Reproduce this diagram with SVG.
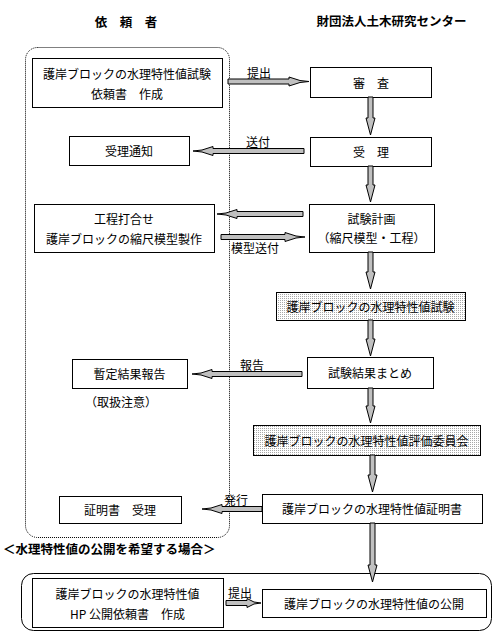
<svg xmlns="http://www.w3.org/2000/svg" width="502" height="640" viewBox="0 0 502 640">
<style>
.t{font-family:"Noto Sans CJK JP","Noto Sans CJK SC",sans-serif;font-size:12px;text-anchor:middle;dominant-baseline:central;fill:#000}
.h{font-family:"Noto Sans CJK JP","Noto Sans CJK SC",sans-serif;font-size:12.5px;font-weight:bold;fill:#000;dominant-baseline:central}
.b{fill:#fff;stroke:#000;stroke-width:1}
.s{fill:url(#dots);stroke:#000;stroke-width:1}
.a{fill:#c0c0c0;stroke:#000;stroke-width:1;stroke-linejoin:miter}
</style>
<defs>
<pattern id="dots" width="2" height="2" patternUnits="userSpaceOnUse">
<rect width="2" height="2" fill="#fff"/>
<rect width="1" height="1" fill="#a8a8a8"/>
</pattern>
</defs>
<rect width="502" height="640" fill="#fff"/>

<g id="lanes">
<text class="h" x="126" y="21" text-anchor="middle">依　頼　者</text>
<text class="h" x="391.5" y="20" text-anchor="middle">財団法人土木研究センター</text>
<rect x="25.5" y="47.5" width="204" height="490" rx="12" fill="none" stroke="#000" stroke-width="1" stroke-dasharray="1,1"/>
<text class="h" x="3" y="548">＜水理特性値の公開を希望する場合＞</text>
<rect x="21.5" y="573.5" width="470" height="57" rx="12" fill="none" stroke="#000" stroke-width="1"/>
</g>

<g id="n1"><rect class="b" x="32.5" y="58.5" width="190" height="49"/><text class="t" x="127" y="73">護岸ブロックの水理特性値試験</text><text class="t" x="127" y="93">依頼書　作成</text></g>
<g id="n2"><rect class="b" x="310.5" y="67.5" width="121" height="30"/><text class="t" x="371" y="82">審　査</text></g>
<g id="n3"><rect class="b" x="310.5" y="137.5" width="121" height="29"/><text class="t" x="371" y="151.5">受　理</text></g>
<g id="n4"><rect class="b" x="69.5" y="136.5" width="120" height="29"/><text class="t" x="129" y="150.5">受理通知</text></g>
<g id="n5"><rect class="b" x="34.5" y="204.5" width="180" height="48"/><text class="t" x="124" y="218">工程打合せ</text><text class="t" x="124" y="238">護岸ブロックの縮尺模型製作</text></g>
<g id="n6"><rect class="b" x="309.5" y="204.5" width="125" height="48"/><text class="t" x="371.5" y="218">試験計画</text><text class="t" x="371.5" y="237">（縮尺模型・工程）</text></g>
<g id="n7"><rect class="s" x="276.5" y="292.5" width="189" height="28"/><text class="t" x="370.5" y="306">護岸ブロックの水理特性値試験</text></g>
<g id="n8"><rect class="b" x="307.5" y="357.5" width="126" height="31"/><text class="t" x="370" y="372.5">試験結果まとめ</text></g>
<g id="n9"><rect class="b" x="72.5" y="359.5" width="115" height="29"/><text class="t" x="129.5" y="373.5">暫定結果報告</text><text class="t" x="121" y="401">（取扱注意）</text></g>
<g id="n10"><rect class="s" x="253.5" y="425.5" width="227" height="30"/><text class="t" x="366.5" y="440">護岸ブロックの水理特性値評価委員会</text></g>
<g id="n11"><rect class="b" x="262.5" y="494.5" width="220" height="29"/><text class="t" x="372" y="508.5">護岸ブロックの水理特性値証明書</text></g>
<g id="n12"><rect class="b" x="59.5" y="496.5" width="122" height="27"/><text class="t" x="120" y="509.5">証明書　受理</text></g>
<g id="n13"><rect class="b" x="32.5" y="578.5" width="191" height="49"/><text class="t" x="127.5" y="593">護岸ブロックの水理特性値</text><text class="t" x="127.5" y="613">HP 公開依頼書　作成</text></g>
<g id="n14"><rect class="b" x="262.5" y="589.5" width="224" height="28"/><text class="t" x="374" y="603">護岸ブロックの水理特性値の公開</text></g>

<g id="connectors">
<polygon class="a" points="228,79 289,79 289,77 300,80.5 309,81.5 300,82.5 289,86 289,84 228,84"/>
<polygon class="a" points="304,148.5 213,148.5 213,146.5 202,150 193,151 202,152 213,155.5 213,153.5 304,153.5"/>
<polygon class="a" points="303,211.5 237,211.5 237,209.5 226,213 217,214 226,215 237,218.5 237,216.5 303,216.5"/>
<polygon class="a" points="221,234.5 285,234.5 285,232.5 296,236 305,237 296,238 285,241.5 285,239.5 221,239.5"/>
<polygon class="a" points="302,371.5 212,371.5 212,369.5 201,373 192,374 201,375 212,378.5 212,376.5 302,376.5"/>
<polygon class="a" points="262,506.5 222,506.5 222,504.5 211,508 202,509 211,510 222,513.5 222,511.5 262,511.5"/>
<polygon class="a" points="226,600.5 247,600.5 247,598.5 254,602 261,603 254,604 247,607.5 247,605.5 226,605.5"/>
<polygon class="a" points="368,97 373,97 373,118 375,118 370.5,135 366,118 368,118"/>
<polygon class="a" points="368,166 373,166 373,185 375,185 370.5,202 366,185 368,185"/>
<polygon class="a" points="368,252 373,252 373,272 375,272 370.5,289 366,272 368,272"/>
<polygon class="a" points="368,320 373,320 373,339 375,339 370.5,356 366,339 368,339"/>
<polygon class="a" points="368,388 373,388 373,406 375,406 370.5,423 366,406 368,406"/>
<polygon class="a" points="370,455 375,455 375,475 377,475 372.5,492 368,475 370,475"/>
<polygon class="a" points="370,523 375,523 375,565 377,565 372.5,582 368,565 370,565"/>
<text class="t" x="259" y="72">提出</text>
<text class="t" x="258" y="141">送付</text>
<text class="t" x="255" y="247">模型送付</text>
<text class="t" x="252" y="364">報告</text>
<text class="t" x="236" y="499">発行</text>
<text class="t" x="240" y="592">提出</text>
</g>
</svg>
